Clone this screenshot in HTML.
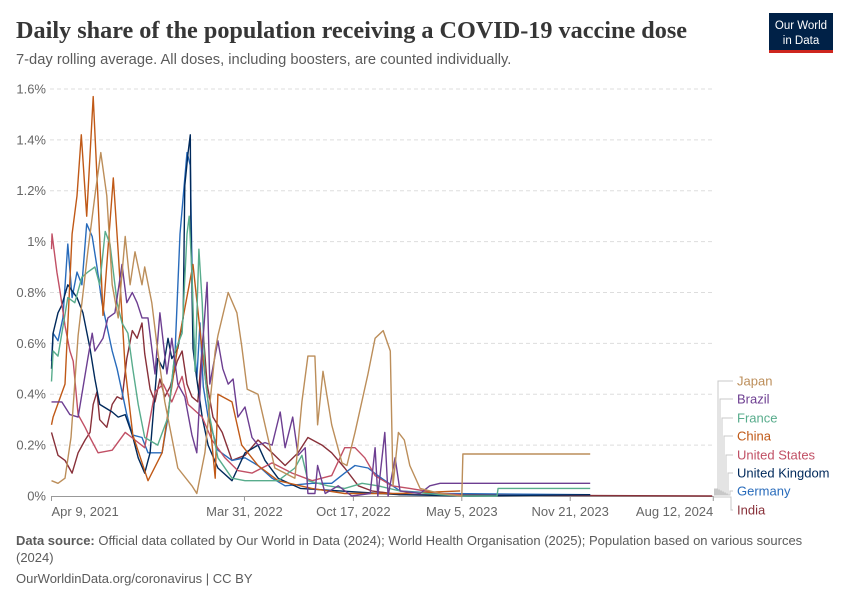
<!DOCTYPE html>
<html><head><meta charset="utf-8">
<style>
body{margin:0;background:#fff;font-family:"Liberation Sans",sans-serif;}
#wrap{position:relative;width:850px;height:600px;overflow:hidden;}
</style></head>
<body>
<div id="wrap">
<svg id="svg" width="850" height="600" xmlns="http://www.w3.org/2000/svg">
<text x="16" y="38" font-family="Liberation Serif, serif" font-size="24" font-weight="bold" fill="#363636" textLength="671" lengthAdjust="spacingAndGlyphs">Daily share of the population receiving a COVID-19 vaccine dose</text>
<text x="16" y="64" font-size="14.7" fill="#5b5b5b">7-day rolling average. All doses, including boosters, are counted individually.</text>
<g>
<rect x="769" y="13" width="64" height="37" fill="#002147"/>
<rect x="769" y="50" width="64" height="3" fill="#ce261e"/>
<text x="801" y="29" font-size="11.5" fill="#fff" text-anchor="middle">Our World</text>
<text x="801" y="44" font-size="11.5" fill="#fff" text-anchor="middle">in Data</text>
</g>
<g id="grid"></g>
<g id="series"></g>
<g id="legend"></g>
<text x="16" y="545" font-size="13" fill="#5b5b5b"><tspan font-weight="bold">Data source:</tspan> Official data collated by Our World in Data (2024); World Health Organisation (2025); Population based on various sources</text>
<text x="16" y="562" font-size="13" fill="#5b5b5b">(2024)</text>
<text x="16" y="583" font-size="13" fill="#5b5b5b">OurWorldinData.org/coronavirus | CC BY</text>
</svg>
</div>
<script>
// days since Apr 9, 2021; values in %
const yTicks=[0,0.2,0.4,0.6,0.8,1,1.2,1.4,1.6];
const yTickLabels=["0%","0.2%","0.4%","0.6%","0.8%","1%","1.2%","1.4%","1.6%"];
const xTickDays=[0,356,557,757,957,1221];
const xTickLabels=["Apr 9, 2021","Mar 31, 2022","Oct 17, 2022","May 5, 2023","Nov 21, 2023","Aug 12, 2024"];
const seriesNames=["Japan","Brazil","France","China","United States","United Kingdom","Germany","India"];
const seriesColors=["#BC8E5A","#6D3E91","#58AC8C","#C05917","#C15065","#00295B","#286BBB","#883039"];

const japanDays=[0,12,25,36,49,67,80,91,102,112,123,136,145,154,167,172,185,196,209,233,259,268,283,302,307,326,342,351,361,381,412,449,462,473,486,491,501,517,536,545,560,584,597,612,625,630,640,651,661,680,717,757,759,994];
const japanVals=[.06,.05,.07,.23,.63,.96,1.18,1.35,1.18,.83,.70,1.02,.83,.96,.83,.90,.76,.57,.37,.11,.04,.01,.17,.57,.63,.80,.72,.59,.42,.40,.11,.07,.37,.55,.55,.28,.49,.28,.13,.12,.25,.48,.62,.65,.57,.04,.25,.22,.12,.03,.01,0,.165,.165];
const brazilDays=[0,19,34,49,67,75,80,95,104,117,130,139,149,158,167,178,191,200,213,222,233,246,259,268,278,287,292,307,316,326,335,344,357,370,381,394,407,422,431,445,455,468,473,486,491,505,529,554,588,597,602,615,621,634,643,680,698,717,994];
const brazilVals=[.37,.37,.32,.31,.54,.64,.57,.62,.70,.72,.91,.76,.80,.76,.70,.70,.48,.72,.48,.62,.44,.39,.24,.17,.57,.84,.44,.61,.50,.44,.46,.31,.35,.23,.20,.21,.20,.33,.19,.31,.16,.19,.01,.01,.12,.01,.04,0,.01,.19,0,.25,0,.15,.02,.01,.04,.05,.05];
const franceDays=[0,3,12,30,43,56,67,80,89,99,108,121,130,141,150,160,172,196,215,228,241,250,254,259,265,272,278,283,292,307,333,357,394,418,449,462,473,510,541,573,602,643,717,757,822,824,994];
const franceVals=[.45,.57,.55,.78,.76,.86,.88,.90,.83,1.04,.99,.76,.68,.64,.50,.36,.23,.20,.31,.57,.64,1.03,1.10,.88,.49,.97,.76,.48,.31,.15,.07,.06,.06,.06,.11,.16,.06,.04,.03,.05,.04,.02,.005,0,0,.03,.03];
const chinaDays=[0,3,25,38,47,55,65,77,86,95,114,123,136,150,178,204,233,261,278,289,302,307,333,351,381,418,480,541,643,754];
const chinaVals=[.28,.31,.44,1.03,1.18,1.42,1.10,1.57,1.16,.71,1.25,.96,.50,.24,.06,.17,.59,.91,.57,.37,.07,.40,.37,.20,.12,.06,.03,.01,.01,.02];
const usDays=[0,1,10,16,25,34,40,49,62,71,86,112,136,154,172,191,206,222,241,252,278,296,320,344,370,407,444,481,517,541,560,578,597,628,661,717,754];
const usVals=[.97,1.03,.88,.80,.67,.57,.53,.32,.27,.23,.17,.18,.25,.22,.19,.41,.44,.37,.47,.36,.31,.22,.15,.10,.09,.13,.09,.06,.08,.19,.19,.15,.08,.04,.03,.01,.005];
const ukDays=[0,3,12,19,30,47,58,71,80,89,112,123,136,149,160,172,182,196,206,215,222,233,243,246,252,256,257,261,268,278,289,307,333,344,357,381,394,418,459,532,606,643,772,994];
const ukVals=[.50,.64,.72,.75,.83,.78,.72,.58,.46,.36,.33,.31,.32,.24,.15,.09,.17,.54,.50,.62,.54,.58,.70,1.22,1.35,1.42,1.09,.58,.46,.31,.20,.11,.06,.11,.17,.20,.14,.07,.03,.02,.01,.005,0,.005];
const germanyDays=[0,3,12,21,30,38,47,56,65,75,84,93,102,112,121,130,139,149,167,178,204,215,228,237,250,256,261,268,274,280,289,307,333,357,381,407,431,481,517,541,560,584,602,643,717,994];
const germanyVals=[.53,.64,.61,.70,.99,.78,.88,.83,1.07,1.02,.90,.76,.67,.57,.50,.41,.32,.24,.23,.17,.17,.31,.57,1.03,1.35,1.30,.67,.46,.68,.43,.31,.18,.14,.15,.12,.07,.04,.05,.05,.09,.12,.11,.08,.02,.01,.005];
const indiaDays=[0,12,25,38,49,62,71,77,84,89,102,112,121,130,139,149,158,167,172,182,191,200,209,219,232,241,250,259,270,280,287,298,315,333,357,381,407,431,455,473,499,517,541,566,591,643,1219];
const indiaVals=[.25,.16,.14,.09,.17,.22,.25,.36,.41,.30,.27,.36,.39,.38,.54,.65,.62,.68,.56,.42,.37,.46,.39,.43,.53,.57,.44,.39,.37,.64,.44,.31,.25,.14,.16,.22,.17,.12,.17,.23,.20,.17,.11,.04,.02,.005,0];

const allDays=[japanDays,brazilDays,franceDays,chinaDays,usDays,ukDays,germanyDays,indiaDays];
const allVals=[japanVals,brazilVals,franceVals,chinaVals,usVals,ukVals,germanyVals,indiaVals];

const NS="http://www.w3.org/2000/svg";
const X0=51.5,PXD=0.542,Y0=496,PXV=254.4;
function xs(d){return X0+d*PXD;}
function ys(v){return Y0-v*PXV;}
function mk(t,a,p){const e=document.createElementNS(NS,t);for(const k in a)e.setAttribute(k,a[k]);p.appendChild(e);return e;}

const grid=document.getElementById('grid');
yTicks.forEach((v,i)=>{
  if(v>0){const l=mk('line',{x1:50,x2:712,y1:ys(v),y2:ys(v),stroke:'#ddd','stroke-dasharray':'4,3'},grid);
  
  }
  const t=mk('text',{x:46,y:ys(v)+4.5,'text-anchor':'end','font-size':13,fill:'#666'},grid);
  t.textContent=yTickLabels[i];
  
  
});
const ax=mk('line',{x1:51,x2:713,y1:496.5,y2:496.5,stroke:'#999'},grid);


xTickDays.forEach((d,i)=>{
  const x=xs(d);
  const tk=mk('line',{x1:x,x2:x,y1:496,y2:501,stroke:'#999'},grid);
  
  
  const t=mk('text',{x:x,y:516,'text-anchor':i===0?'start':(i===xTickDays.length-1?'end':'middle'),'font-size':13,fill:'#666'},grid);
  t.textContent=xTickLabels[i];
  
  
});

const sg=document.getElementById('series');
for(let s=allDays.length-1;s>=0;s--){
  const pts=allDays[s].map((d,i)=>xs(d).toFixed(1)+','+ys(allVals[s][i]).toFixed(1)).join(' ');
  const pl=mk('polyline',{points:pts,fill:'none',stroke:seriesColors[s],'stroke-width':1.4,'stroke-linejoin':'round'},sg);
  
  
}

const lg=document.getElementById('legend');
const labelY=[381,399,418,436,455,473,491,510];
const bendX=[718,720,722,724,726,728,730,731];
const startY=[489,490,491,492,493,494,495,497];
seriesNames.forEach((n,i)=>{
  const ly=labelY[i];
  const p=mk('path',{d:`M714,${startY[i]} H${bendX[i]} V${ly} H733`,fill:'none',stroke:'#c8c8c8','stroke-width':1},lg);
  
  
  const t=mk('text',{x:737,y:ly+4.5,'font-size':13,fill:seriesColors[i]},lg);
  t.textContent=n;
  
  
});
</script>
</body></html>
